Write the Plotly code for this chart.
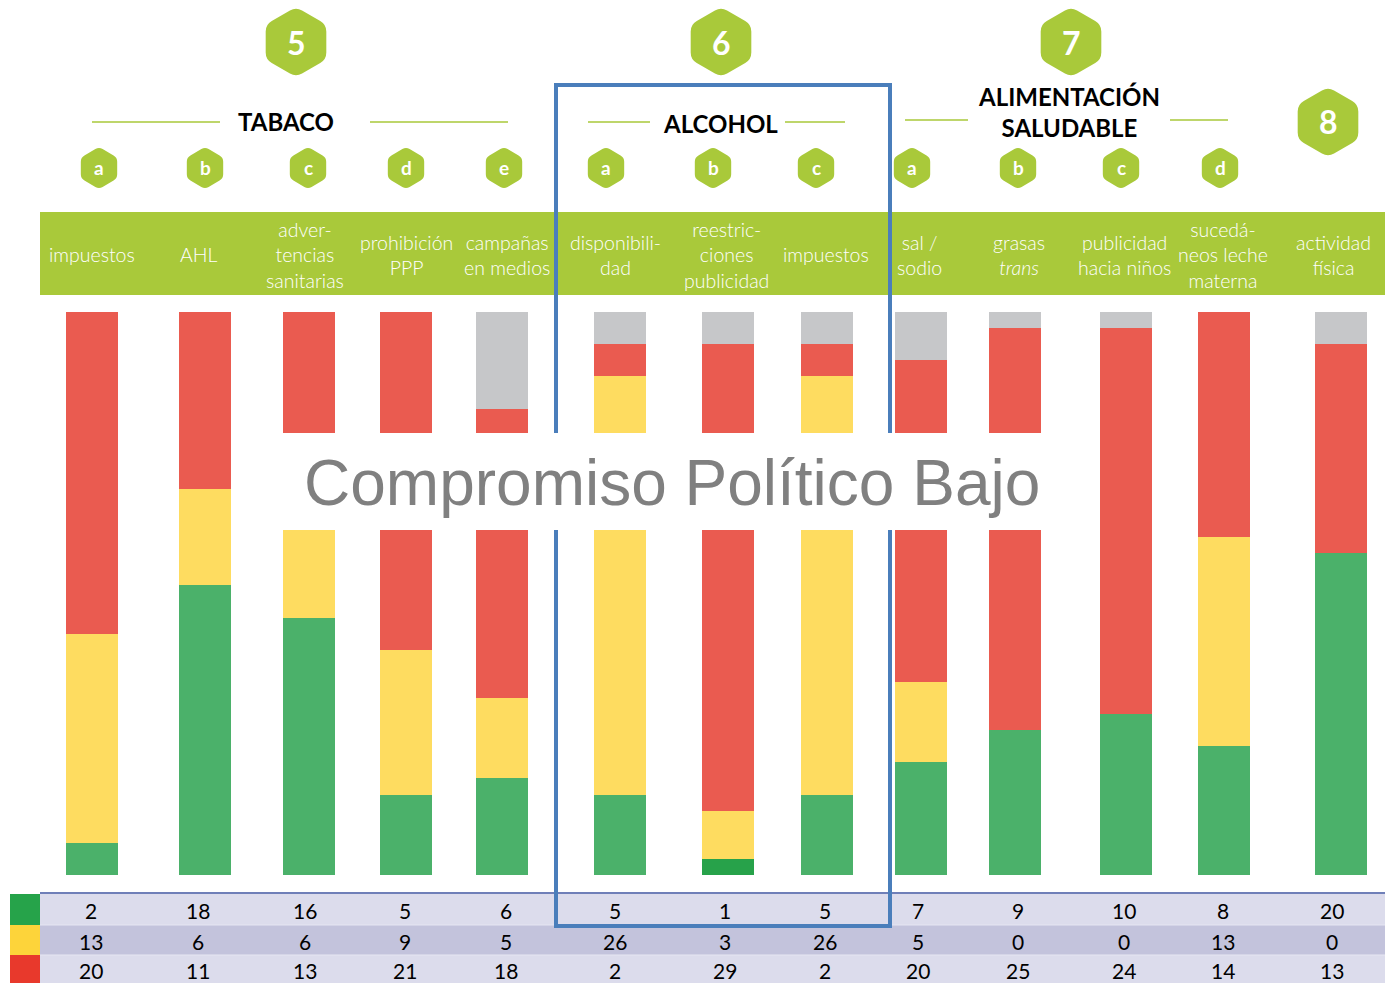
import math
import plotly.graph_objects as go

# ---------------- data ----------------
categories = ["impuestos", "AHL", "adver-<br>tencias<br>sanitarias", "prohibición<br>PPP",
              "campañas<br>en medios", "disponibili-<br>dad", "reestric-<br>ciones<br>publicidad",
              "impuestos", "sal /<br>sodio", "grasas<br><i>trans</i>", "publicidad<br>hacia niños",
              "sucedá-<br>neos leche<br>materna", "actividad<br>física"]
letters = ["a", "b", "c", "d", "e", "a", "b", "c", "a", "b", "c", "d"]
green = [2, 18, 16, 5, 6, 5, 1, 5, 7, 9, 10, 8, 20]
yellow = [13, 6, 6, 9, 5, 26, 3, 26, 5, 0, 0, 13, 0]
red = [20, 11, 13, 21, 18, 2, 29, 2, 20, 25, 24, 14, 13]
gray = [0, 0, 0, 0, 6, 2, 2, 2, 3, 1, 1, 0, 2]
groups = ["5", "6", "7", "8"]
group_titles = ["TABACO", "ALCOHOL", "ALIMENTACIÓN<br>SALUDABLE"]
overlay_text = "Compromiso Político Bajo"

# ---------------- layout constants ----------------
W, H = 1385, 983
bar_x = [92, 205, 309, 406, 502, 620, 728, 827, 921, 1015, 1126, 1224, 1341]
label_x = [92, 199, 305, 406, 507, 615, 726, 826, 919, 1019, 1124, 1223, 1333]
num_x = [91, 198, 305, 405, 506, 615, 725, 825, 918, 1018, 1124, 1223, 1332]
letter_x = [99, 205, 308, 406, 504, 606, 713, 816, 912, 1018, 1121, 1220]
big_hex = [(296, 42), (721, 42), (1071, 42), (1328, 122)]
BAR_TOP, BAR_BOT = 312, 875
YMAX = 35

LIME = "#a9c93a"
C_GREEN = "#4bb16a"
C_GREEN_DARK = "#27a24a"
C_YELLOW = "#fedc60"
C_RED = "#ea5b50"
C_GRAY = "#c6c7c9"
BLUE = "#4a7ebb"
FONT = "Lato"


def py(p):
    return 1 - p / H


def hex_path(cx, cy, r, t=0.2):
    pts = []
    for k in range(6):
        a = math.radians(-90 + 60 * k)
        pts.append((cx + r * math.cos(a), cy + r * math.sin(a)))
    s = ""
    n = len(pts)
    for i in range(n):
        v = pts[i]
        pv = pts[i - 1]
        nv = pts[(i + 1) % n]
        pin = (v[0] + (pv[0] - v[0]) * t, v[1] + (pv[1] - v[1]) * t)
        pout = (v[0] + (nv[0] - v[0]) * t, v[1] + (nv[1] - v[1]) * t)
        s += ("M " if i == 0 else "L ") + f"{pin[0]:.2f},{py(pin[1]):.5f} "
        s += f"Q {v[0]:.2f},{py(v[1]):.5f} {pout[0]:.2f},{py(pout[1]):.5f} "
    return s + "Z"


def ann(x, y, text, size, color, family=FONT, weight=None):
    f = dict(family=family, size=size, color=color)
    if weight is not None:
        f["weight"] = weight
    return dict(x=x, y=py(y), xref="x", yref="paper", text=text, showarrow=False,
                xanchor="center", yanchor="middle", font=f)


fig = go.Figure()

green_colors = [C_GREEN] * len(green)
green_colors[6] = C_GREEN_DARK
for vals, col, name in [(green, green_colors, "verde"), (yellow, C_YELLOW, "amarillo"),
                        (red, C_RED, "rojo"), (gray, C_GRAY, "gris")]:
    fig.add_trace(go.Bar(x=bar_x, y=vals, width=52, name=name,
                         marker=dict(color=col, line=dict(width=0)),
                         hoverinfo="skip", showlegend=False))

shapes = []
annotations = []

# header green band
shapes.append(dict(type="rect", xref="x", yref="paper", x0=40, x1=W, y0=py(295), y1=py(212),
                   fillcolor=LIME, line=dict(width=0), layer="below"))

# table
row_bg = ["#dcdcec", "#c3c3dc", "#dcdcec"]
row_y = [(894, 925), (925, 955), (955, 983)]
row_sq = ["#26a34a", "#fdd43a", "#e8392c"]
for (y0, y1), bg, sq in zip(row_y, row_bg, row_sq):
    shapes.append(dict(type="rect", xref="x", yref="paper", x0=40, x1=W, y0=py(y1), y1=py(y0),
                       fillcolor=bg, line=dict(width=0), layer="below"))
    shapes.append(dict(type="rect", xref="x", yref="paper", x0=10, x1=40, y0=py(y1), y1=py(y0),
                       fillcolor=sq, line=dict(width=0), layer="below"))
for yy in [925, 955]:
    shapes.append(dict(type="line", xref="x", yref="paper", x0=40, x1=W, y0=py(yy), y1=py(yy),
                       line=dict(color="#e6e6f2", width=1), layer="below"))
shapes.append(dict(type="line", xref="x", yref="paper", x0=40, x1=W, y0=py(893), y1=py(893),
                   line=dict(color="#6f7fb8", width=2), layer="below"))

# blue highlight box
shapes.append(dict(type="rect", xref="x", yref="paper", x0=556, x1=890, y0=py(926), y1=py(85),
                   line=dict(color=BLUE, width=4), fillcolor="rgba(0,0,0,0)", layer="above"))
# white band
shapes.append(dict(type="rect", xref="x", yref="paper", x0=258, x1=1068, y0=py(530), y1=py(433),
                   fillcolor="white", line=dict(width=0), layer="above"))

# section title lines
for x0, x1, yy in [(92, 220, 122), (370, 508, 122), (588, 650, 122), (785, 845, 122),
                   (905, 968, 120), (1170, 1228, 120)]:
    shapes.append(dict(type="line", xref="x", yref="paper", x0=x0, x1=x1, y0=py(yy), y1=py(yy),
                       line=dict(color=LIME, width=1.5)))

# hexagons
for (cx, cy), g in zip(big_hex, groups):
    shapes.append(dict(type="path", xref="x", yref="paper", path=hex_path(cx, cy, 35),
                       fillcolor=LIME, line=dict(width=0)))
    annotations.append(ann(cx, cy, f"<b>{g}</b>", 32, "white"))
for lx, L in zip(letter_x, letters):
    shapes.append(dict(type="path", xref="x", yref="paper", path=hex_path(lx, 168, 21),
                       fillcolor=LIME, line=dict(width=0)))
    annotations.append(ann(lx, 167, f"<b>{L}</b>", 19, "white"))

# section titles
for tx, ty, t in [(286, 121, group_titles[0]), (720, 123, group_titles[1]), (1069, 112, group_titles[2])]:
    annotations.append(ann(tx, ty, f"<b>{t}</b>", 24, "black"))

# header labels
for lx, c in zip(label_x, categories):
    annotations.append(ann(lx, 255, c, 19.5, "white", weight=300))

# table numbers
for row_vals, (y0, y1) in zip([green, yellow, red], row_y):
    yc = (y0 + y1) / 2 + 1
    for nx, v in zip(num_x, row_vals):
        annotations.append(ann(nx, yc, str(v), 21, "black"))

# overlay text
annotations.append(ann(672, 483, overlay_text, 64, "#808080", family="Liberation Sans"))

fig.update_layout(
    width=W, height=H, margin=dict(l=0, r=0, t=0, b=0),
    paper_bgcolor="white", plot_bgcolor="white",
    barmode="stack", bargap=0,
    xaxis=dict(range=[0, W], domain=[0, 1], visible=False, fixedrange=True),
    yaxis=dict(range=[0, YMAX], domain=[py(BAR_BOT), py(BAR_TOP)], visible=False, fixedrange=True),
    shapes=shapes, annotations=annotations, showlegend=False,
)

fig.write_html("out.html", config={"displayModeBar": False},
               post_script="document.body.style.margin='0';document.body.style.overflow='hidden';")
